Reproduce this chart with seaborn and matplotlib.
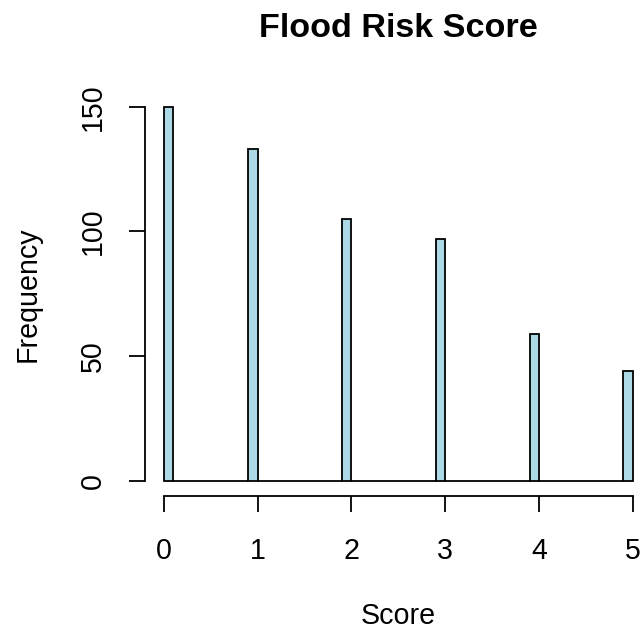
import numpy as np
import matplotlib
matplotlib.use("Agg")
import matplotlib.pyplot as plt
import seaborn as sns

# Flood risk scores and how often each one occurs
scores = [0, 1, 2, 3, 4, 5]
counts = [150, 133, 105, 97, 59, 44]

# R style bins of width 0.1, closed on the right
bin_edges = np.round(np.arange(0, 5.01, 0.1), 1)
bin_edges[1:] = bin_edges[1:] + 1e-9

raw_scores = np.repeat(scores, counts)

sns.set_theme(style="white")
plt.rcParams["font.family"] = ["Liberation Sans", "DejaVu Sans"]

fig = plt.figure(figsize=(6.42, 6.31), dpi=100)
ax = fig.add_axes([0.2263, 0.2139, 0.7883, 0.6407])

sns.histplot(x=raw_scores, bins=bin_edges, color="#ADD8E6", edgecolor="black",
             linewidth=1.3, alpha=1, ax=ax)

ax.set_xlim(-0.2, 5.2)
ax.set_ylim(-6, 156)

# axes like base R: no box, lines only over the tick range
for side in ["top", "right"]:
    ax.spines[side].set_visible(False)
ax.spines["left"].set_bounds(0, 150)
ax.spines["bottom"].set_bounds(0, 5)
for side in ["left", "bottom"]:
    ax.spines[side].set_color("black")
    ax.spines[side].set_linewidth(1.3)

ax.set_xticks(scores)
ax.set_yticks([0, 50, 100, 150])
ax.tick_params(axis="both", direction="out", length=11.5, width=1.3,
               color="black", labelsize=20.6, labelcolor="black",
               left=True, bottom=True)
ax.tick_params(axis="x", pad=18)
ax.tick_params(axis="y", pad=16, labelrotation=90)
for lab in ax.get_yticklabels():
    lab.set_verticalalignment("center")

ax.set_xlabel("Score", fontsize=20.6, color="black")
ax.xaxis.label.set_va("baseline")
ax.xaxis.set_label_coords(0.5, -0.3166)

ax.set_ylabel("Frequency", fontsize=20.6, color="black")
ax.yaxis.label.set_va("baseline")
ax.yaxis.set_label_coords(-0.216, 0.5)

ax.set_title("Flood Risk Score", fontsize=24.6, fontweight="bold", color="black",
             y=1.135, pad=0)

plt.savefig("out.png", dpi=100)
